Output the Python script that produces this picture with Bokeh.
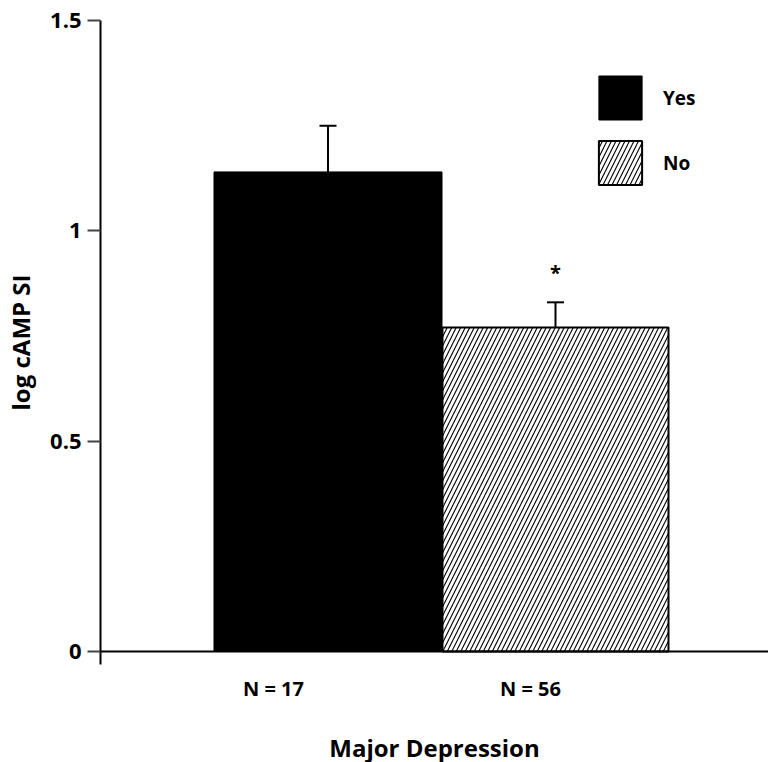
from bokeh.plotting import figure
from bokeh.models import (ColumnDataSource, Range1d, FixedTicker, Whisker, TeeHead,
                          Span, Legend, LegendItem)
from bokeh.core.properties import value
from bokeh.embed import file_html
from bokeh.resources import INLINE

# ---- data ----
groups = ["Yes", "No"]
bar_x = [2.275, 4.55]
means = [1.14, 0.77]
upper = [1.25, 0.83]
lower = [1.03, 0.71]
n_labels = ["N = 17", "N = 56"]
n_label_x = [1.73, 4.30]
y_ticks = [0, 0.5, 1, 1.5]
y_tick_labels = ["0", "0.5", "1", "1.5"]
star_x = [4.55]
star_y = [0.90]

FONT = "Open Sans"

p = figure(width=768, height=762, frame_width=668, frame_height=644,
           min_border_left=100, min_border_top=20, min_border_right=0, min_border_bottom=98,
           x_range=Range1d(0, 6.68), y_range=Range1d(-0.031, 1.5),
           output_backend="svg", toolbar_location=None)
p.outline_line_color = None
p.grid.visible = False
p.background_fill_color = "white"
p.border_fill_color = "white"

src_yes = ColumnDataSource(dict(x=[bar_x[0]], top=[means[0]]))
src_no = ColumnDataSource(dict(x=[bar_x[1]], top=[means[1]]))

r_yes = p.vbar(x="x", top="top", bottom=0, width=2.28, source=src_yes,
               fill_color="black", line_color="black", line_width=1)
r_no = p.vbar(x="x", top="top", bottom=0, width=2.26, source=src_no,
              fill_color="white", line_color="black", line_width=2,
              hatch_pattern="/", hatch_color="black", hatch_scale=9, hatch_weight=1.1)

err = ColumnDataSource(dict(x=bar_x, upper=upper, lower=lower))
w = Whisker(base="x", upper="upper", lower="lower", source=err, dimension="height",
            line_color="black", line_width=2,
            upper_head=TeeHead(size=17, line_width=2, line_color="black"),
            lower_head=TeeHead(size=17, line_width=2, line_color="black"))
p.add_layout(w)

p.text(x=star_x, y=star_y, text=["*"], text_font=value(FONT), text_font_style="bold",
       text_font_size="20px", text_align="center", text_baseline="middle", text_color="black")

# x axis baseline at y = 0
p.add_layout(Span(location=0, dimension="width", line_color="black", line_width=2))

# y axis
yax = p.yaxis[0]
yax.ticker = FixedTicker(ticks=y_ticks)
yax.major_label_overrides = {t: l for t, l in zip(y_ticks, y_tick_labels)}
yax.minor_tick_line_color = None
yax.major_tick_in = 0
yax.major_tick_out = 13
yax.major_tick_line_color = "#444444"
yax.major_tick_line_width = 2
yax.axis_line_color = "black"
yax.axis_line_width = 2
yax.major_label_text_font = FONT
yax.major_label_text_font_style = "bold"
yax.major_label_text_font_size = "22px"
yax.major_label_text_color = "black"
yax.major_label_standoff = 6
yax.axis_label = "log cAMP SI"
yax.axis_label_text_font = FONT
yax.axis_label_text_font_style = "bold"
yax.axis_label_text_font_size = "24px"
yax.axis_label_text_color = "black"
yax.axis_label_standoff = 10

# x axis (labels only)
xax = p.xaxis[0]
xax.ticker = FixedTicker(ticks=n_label_x)
xax.major_label_overrides = {t: l for t, l in zip(n_label_x, n_labels)}
xax.axis_line_color = None
xax.major_tick_line_color = None
xax.minor_tick_line_color = None
xax.major_label_text_font = FONT
xax.major_label_text_font_style = "bold"
xax.major_label_text_font_size = "20px"
xax.major_label_text_color = "black"
xax.major_label_standoff = 4
xax.axis_label = "Major Depression"
xax.axis_label_text_font = FONT
xax.axis_label_text_font_style = "bold"
xax.axis_label_text_font_size = "24px"
xax.axis_label_text_color = "black"
xax.axis_label_standoff = 26

legend = Legend(items=[LegendItem(label=groups[0], renderers=[r_yes]),
                       LegendItem(label=groups[1], renderers=[r_no])],
                location=(493, 474), glyph_width=54, glyph_height=55, label_height=55,
                spacing=10, label_standoff=16, padding=0, margin=0,
                border_line_color=None, background_fill_alpha=0,
                label_text_font=FONT, label_text_font_style="bold",
                label_text_font_size="19px", label_text_color="black")
p.add_layout(legend)

open("out.html", "w").write(file_html(p, INLINE))
